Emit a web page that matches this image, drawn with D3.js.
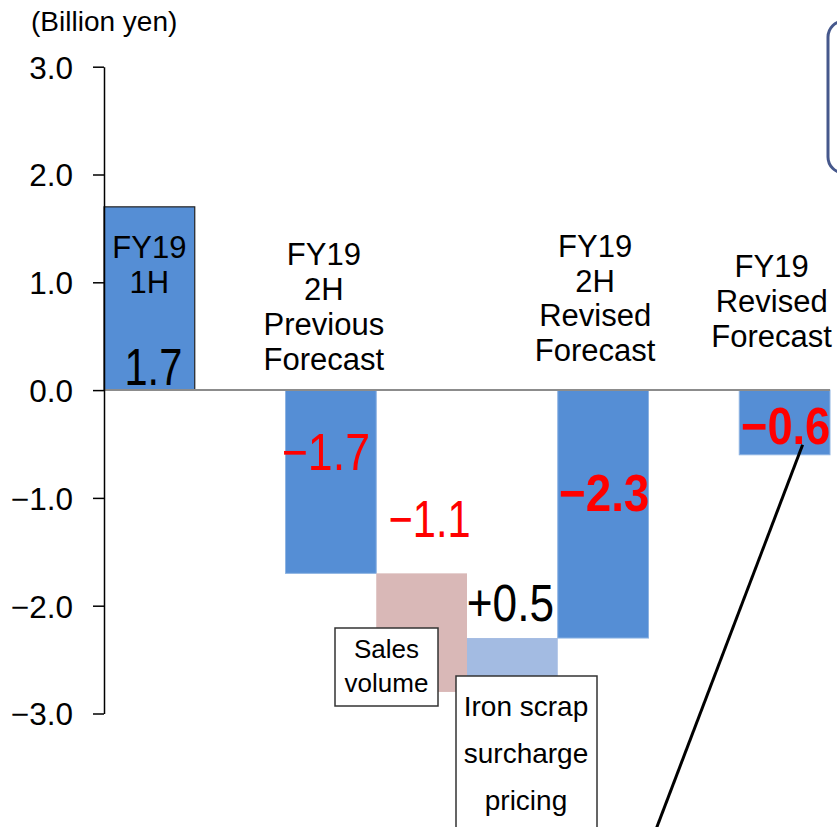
<!DOCTYPE html>
<html>
<head>
<meta charset="utf-8">
<script src="https://cdn.jsdelivr.net/npm/d3@7"></script>
<style>
  html, body { margin: 0; padding: 0; background: #fff; }
  svg { display: block; font-family: "Liberation Sans", Arial, sans-serif; }
</style>
</head>
<body>
<svg id="chart" width="837" height="827"></svg>
<script>
// Waterfall: FY19 1H result, 2H previous forecast, change factors, revised forecasts
const slots = ["1H", "gapA", "prev2H", "sales", "scrap", "rev2H", "gapB", "revFY"];
const barKeys = ["1H", "prev2H", "sales", "scrap", "rev2H", "revFY"];
const barStart = [0, 0, -1.7, -2.8, 0, 0];
const barValues = [1.7, -1.7, -1.1, 0.5, -2.3, -0.6];
const valueLabels = ["1.7", "\u22121.7", "\u22121.1", "+0.5", "\u22122.3", "\u22120.6"];
const categoryLabels = [
  ["FY19", "1H"],
  ["FY19", "2H", "Previous", "Forecast"],
  ["Sales", "volume"],
  ["Iron scrap", "surcharge", "pricing"],
  ["FY19", "2H", "Revised", "Forecast"],
  ["FY19", "Revised", "Forecast"]
];
const yTicks = [-3, -2, -1, 0, 1, 2, 3];
const unitLabel = "(Billion yen)";

// Styling and placement per bar
const barFill = ["#558ed5", "#558ed5", "#d9b8b7", "#a3bbe2", "#558ed5", "#558ed5"];
const barStroke = ["#222", "#8db3e2", "none", "none", "#8db3e2", "#8db3e2"];
const valueStyle = [
  { color: "#000", weight: "normal", sx: 0.80, dx: 4, dy: -5, from: "zero" },
  { color: "#ff0000", weight: "normal", sx: 0.86, dx: -5, dy: 80, from: "zero" },
  { color: "#ff0000", weight: "normal", sx: 0.80, dx: 8, dy: -36, from: "top" },
  { color: "#000", weight: "normal", sx: 0.85, dx: -2, dy: -17, from: "top" },
  { color: "#ff0000", weight: "bold", sx: 0.88, dx: 1, dy: 121, from: "zero" },
  { color: "#ff0000", weight: "bold", sx: 0.87, dx: 1, dy: -11, from: "end" }
];

const svg = d3.select("#chart");

const x = d3.scaleBand().domain(slots).range([104, 830]).paddingInner(0).paddingOuter(0);
const y = d3.scaleLinear().domain([-3, 3]).range([713.5, 66.7]);

// Unit label
svg.append("text")
  .attr("x", 31).attr("y", 31)
  .attr("font-size", 28)
  .attr("fill", "#000")
  .text(unitLabel);

// Bars
const bars = barKeys.map((k, i) => ({
  key: k, start: barStart[i], end: barStart[i] + barValues[i], i
}));

svg.append("g").selectAll("rect")
  .data(bars)
  .join("rect")
  .attr("x", d => x(d.key))
  .attr("width", x.bandwidth())
  .attr("y", d => y(Math.max(d.start, d.end)))
  .attr("height", d => Math.abs(y(d.start) - y(d.end)))
  .attr("fill", d => barFill[d.i])
  .attr("stroke", d => barStroke[d.i])
  .attr("stroke-width", d => d.i === 0 ? 1.2 : 1);

// Zero line
svg.append("line")
  .attr("x1", 104).attr("x2", x.range()[1])
  .attr("y1", y(0)).attr("y2", y(0))
  .attr("stroke", "#8c8c8c").attr("stroke-width", 2);

// Y axis
const yAxis = d3.axisLeft(y)
  .tickValues(yTicks)
  .tickFormat(d3.format(".1f"))
  .tickSize(11)
  .tickPadding(20)
  .tickSizeOuter(0);

const gy = svg.append("g")
  .attr("transform", "translate(104,0)")
  .call(yAxis);
gy.select(".domain").attr("stroke", "#000").attr("stroke-width", 1.5);
gy.selectAll(".tick line").attr("stroke", "#000").attr("stroke-width", 1.5);
gy.selectAll(".tick text")
  .attr("font-size", 31.5)
  .attr("font-family", "'Liberation Sans', Arial, sans-serif")
  .attr("fill", "#000")
  .attr("dy", "0.36em");

// Category labels
const catLayout = [
  { cx: 0, top: 258, lh: 35 },
  { cx: -7, top: 265, lh: 35 },
  null,
  null,
  { cx: -8, top: 257, lh: 34.7 },
  { cx: -13, top: 277, lh: 35 }
];
bars.forEach((b, i) => {
  const L = catLayout[i];
  if (!L) return;
  const t = svg.append("text")
    .attr("text-anchor", "middle")
    .attr("font-size", 31)
    .attr("fill", "#000");
  categoryLabels[i].forEach((line, j) => {
    t.append("tspan")
      .attr("x", x(b.key) + x.bandwidth() / 2 + L.cx)
      .attr("y", L.top + j * L.lh)
      .text(line);
  });
});

// Boxed factor labels
const boxLayout = {
  2: { x0: 335, x1: 438, y0: 628, y1: 706, fs: 26, top: 658, lh: 34, cx: 386.5 },
  3: { x0: 456, x1: 597, y0: 676, y1: 860, fs: 28, top: 716, lh: 47, cx: 526 }
};
Object.keys(boxLayout).forEach(k => {
  const B = boxLayout[k];
  svg.append("rect")
    .attr("x", B.x0).attr("y", B.y0)
    .attr("width", B.x1 - B.x0).attr("height", B.y1 - B.y0)
    .attr("fill", "#fff").attr("stroke", "#333").attr("stroke-width", 1.5);
  const t = svg.append("text")
    .attr("text-anchor", "middle")
    .attr("font-size", B.fs)
    .attr("fill", "#000");
  categoryLabels[+k].forEach((line, j) => {
    t.append("tspan").attr("x", B.cx).attr("y", B.top + j * B.lh).text(line);
  });
});

// Value labels
bars.forEach((b, i) => {
  const s = valueStyle[i];
  const cx = x(b.key) + x.bandwidth() / 2 + s.dx;
  let base;
  if (s.from === "zero") base = y(0);
  else if (s.from === "top") base = y(Math.max(b.start, b.end));
  else base = y(b.end);
  const cy = base + s.dy;
  svg.append("text")
    .attr("transform", `translate(${cx},${cy}) scale(${s.sx},1)`)
    .attr("text-anchor", "middle")
    .attr("font-size", 52)
    .attr("font-weight", s.weight)
    .attr("fill", s.color)
    .text(valueLabels[i]);
});

// Callout: leader line from the full-year value and the framed note box
const revEnd = bars[5];
svg.append("line")
  .attr("x1", x(revEnd.key) + x.bandwidth() / 2 + 18)
  .attr("y1", y(revEnd.end) - 10)
  .attr("x2", 655).attr("y2", 832)
  .attr("stroke", "#000").attr("stroke-width", 3);

svg.append("rect")
  .attr("x", 828).attr("y", 21)
  .attr("width", 120).attr("height", 152)
  .attr("rx", 16).attr("ry", 16)
  .attr("fill", "#fff")
  .attr("stroke", "#46588c").attr("stroke-width", 3);
</script>
</body>
</html>
